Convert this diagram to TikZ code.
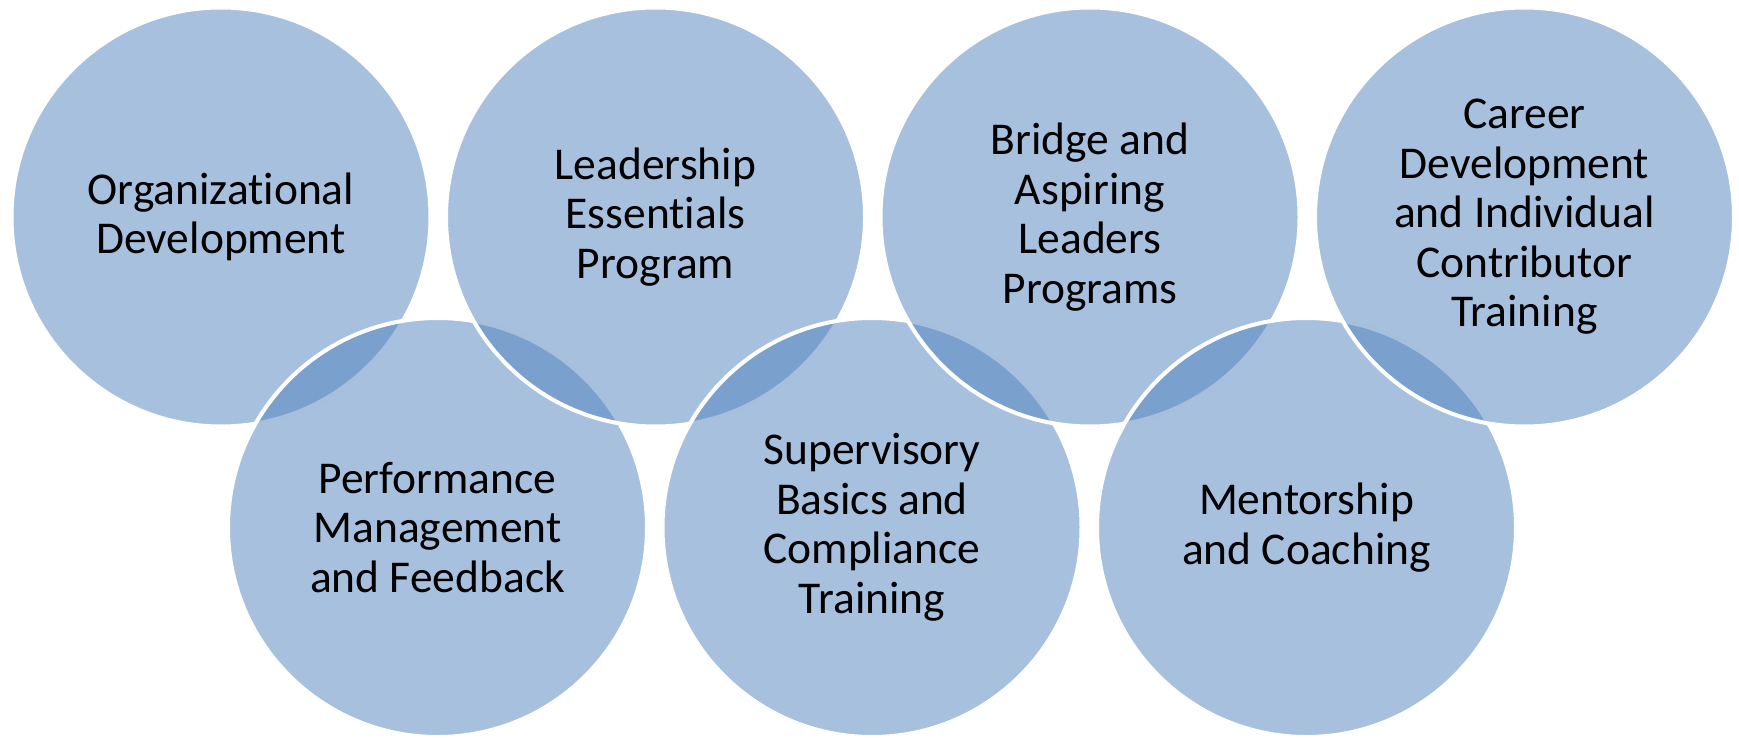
\documentclass[tikz,border=0pt]{standalone}
\usepackage{fontspec}
\setmainfont{Carlito}[Ligatures=NoCommon]
\definecolor{accent}{HTML}{4F81BD}
\begin{document}
\begin{tikzpicture}[x=1pt,y=-1pt,
  circ/.style={circle, minimum size=419pt, inner sep=0pt, fill=accent, fill opacity=0.5, text opacity=1, draw=white, line width=4pt, align=center, text=black, font=\fontsize{45.5}{49.5}\selectfont}]
\useasboundingbox (0,0) rectangle (1739,738);
\node[circ] (c1) at (221,217) {Organizational\\Development};
\node[circ] (c5) at (437.5,527.5) {Performance\\Management\\and Feedback};
\node[circ] (c2) at (655.5,217) {Leadership\\Essentials\\Program};
\node[circ] (c6) at (872,527.5) {Supervisory\\Basics and\\Compliance\\Training};
\node[circ] (c3) at (1090,217) {Bridge and\\Aspiring\\Leaders\\Programs};
\node[circ] (c7) at (1306.5,527.5) {Mentorship\\and Coaching};
\node[circ] (c4) at (1524.5,217) {Career\\Development\\and Individual\\Contributor\\Training};
\end{tikzpicture}
\end{document}
